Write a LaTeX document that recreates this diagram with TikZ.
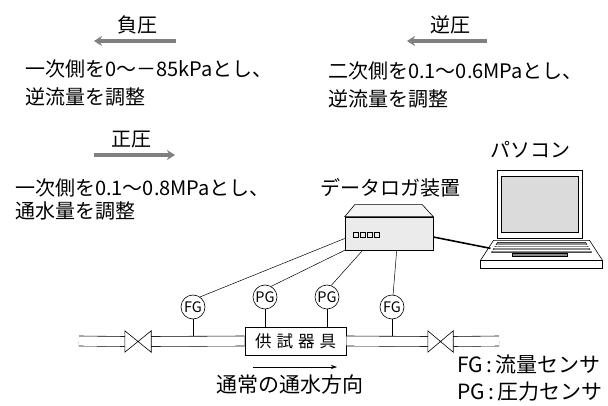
\documentclass[tikz,border=0pt]{standalone}
\usepackage{fontspec}
\newfontfamily\jp{Noto Sans CJK JP}
\usetikzlibrary{arrows.meta,positioning,calc}

\begin{document}
\begin{tikzpicture}[x=1pt,y=-1pt,every node/.style={font=\jp\fontsize{20}{28}\selectfont,inner sep=0pt},
  txt/.style={align=left,anchor=west},
  big/.style={font=\jp\fontsize{21}{27}\selectfont},
  gauge/.style={draw,circle,minimum size=24pt,line width=0.6pt,font=\jp\fontsize{14.5}{14.5}\selectfont},
  valve/.style={minimum width=26pt,minimum height=21pt},
  pipe/.style={double distance=9.4pt,line width=0.6pt},
  wire/.style={line width=0.5pt},
  bigarrow/.style={line width=3.6pt,black!50,-{Stealth[length=8pt,width=10pt]}}]
  \useasboundingbox (0,0) rectangle (608,406);

  % pressure modes
  \coordinate (na1) at (176,41); \coordinate (na2) at (94,41);
  \coordinate (ra1) at (487,41); \coordinate (ra2) at (407,41);
  \coordinate (pa1) at (94,155); \coordinate (pa2) at (175,155);
  \draw[bigarrow] (na1)--(na2); \draw[bigarrow] (ra1)--(ra2); \draw[bigarrow] (pa1)--(pa2);
  \node (neg) at (137,25) {負圧}; \node (rev) at (450,25) {逆圧}; \node (pos) at (131,140) {正圧};
  \node[txt] (negtxt) at (25,83) {一次側を0～－85kPaとし、\\逆流量を調整};
  \node[txt] (revtxt) at (328,84.5) {二次側を0.1～0.6MPaとし、\\逆流量を調整};
  \node[txt] (postxt) at (15,199.5) {一次側を0.1～0.8MPaとし、\\[-5pt]通水量を調整};

  % pipe line
  \node[valve] (v1) at (138,341.5) {}; \node[valve,minimum width=25pt] (v2) at (440.5,341.5) {};
  \node[draw,fill=white,line width=0.6pt,minimum width=101pt,minimum height=28pt,font=\jp\fontsize{16.5}{16.5}\selectfont] (dut) at (295.5,341) {供\hspace{5pt}試\hspace{5pt}器\hspace{5pt}具};
  \coordinate (pl) at (79,341); \coordinate (pr) at (499,341); \coordinate (ptop) at (0,336);
  \draw[pipe] (pl)--(v1.west); \draw[pipe] (v1.east)--(dut.west); \draw[pipe] (dut.east)--(v2.west); \draw[pipe] (v2.east)--(pr);
  \foreach \v in {v1,v2} \draw[line width=0.6pt] (\v.north west)--(\v.south east)--(\v.north east)--(\v.south west)--cycle;

  % sensors
  \node[gauge] (fg1) at (193,307) {FG}; \node[gauge] (pg1) at (265,297) {PG};
  \node[gauge] (pg2) at (327,297) {PG}; \node[gauge] (fg2) at (392,307) {FG};
  \draw[wire] (fg1.south)--(fg1 |- ptop); \draw[wire] (fg2.south)--(fg2 |- ptop);
  \draw[wire] (pg1.south)--(pg1 |- dut.north); \draw[wire] (pg2.south)--(pg2 |- dut.north);

  % data logger
  \node[draw,fill=black!8,line width=0.6pt,minimum width=88pt,minimum height=33pt] (dl) at (389,233.5) {};
  \draw[fill=black!4,line width=0.6pt] (dl.north west)--([shift={(10,-12)}]dl.north west)--([shift={(-11,-12)}]dl.north east)--(dl.north east)--cycle;
  \foreach \i in {0,...,3} \draw[line width=0.5pt] ([shift={(9+\i*7,-1.5)}]dl.west) rectangle ++(4.5,5);
  \node (dltxt) at (390,188) {データロガ装置};
  \draw[wire] (fg1.55)--([yshift=-5pt]dl.west); \draw[wire] (pg1.60)--(dl.south west);
  \draw[wire] (pg2.70)--([xshift=18pt]dl.south west); \draw[wire] (fg2.85)--([xshift=52pt]dl.south west);

  % pc
  \node[draw,fill=white,line width=0.7pt,minimum width=85pt,minimum height=68pt] (pc) at (539.5,204) {};
  \draw[fill=black!14,line width=0.6pt] ([shift={(5,7)}]pc.north west) rectangle ([shift={(-4,-6)}]pc.south east);
  \draw[fill=white,line width=0.6pt] ([shift={(-46,2)}]pc.south)--([shift={(50,2)}]pc.south)--([shift={(63,22)}]pc.south)--([shift={(-59,22)}]pc.south)--cycle;
  \draw[fill=white,line width=0.6pt] ([shift={(-59,22)}]pc.south) rectangle ([shift={(63,30)}]pc.south);
  \draw[fill=black!45,line width=0.5pt] ([shift={(-42,4)}]pc.south)--([shift={(46,4)}]pc.south)--([shift={(52,14)}]pc.south)--([shift={(-48,14)}]pc.south)--cycle;
  \foreach \r in {6.5,9,11.5} \draw[white,line width=0.6pt] ([shift={(-44-\r*0.3,\r)}]pc.south)--([shift={(48+\r*0.3,\r)}]pc.south);
  \draw[fill=black!45,line width=0.5pt] ([shift={(-27,15)}]pc.south) rectangle ([shift={(28,18)}]pc.south);
  \node (pctxt) at (530,150) {パソコン};
  \coordinate (pcport) at ([shift={(-49,10)}]pc.south);
  \draw[line width=1.6pt] ([yshift=-3.5pt]dl.east)--(pcport);

  % flow direction and legend
  \coordinate (fl1) at (253,367); \coordinate (fl2) at (337,367);
  \draw[line width=0.6pt,-{Stealth[length=6pt,width=4pt]}] (fl1)--(fl2);
  \node[big] (fltxt) at (290,385) {通常の通水方向};
  \node[txt,big] (legend) at (457,378.5) {FG\,:\,流量センサ\\PG\,:\,圧力センサ};
\end{tikzpicture}
\end{document}
